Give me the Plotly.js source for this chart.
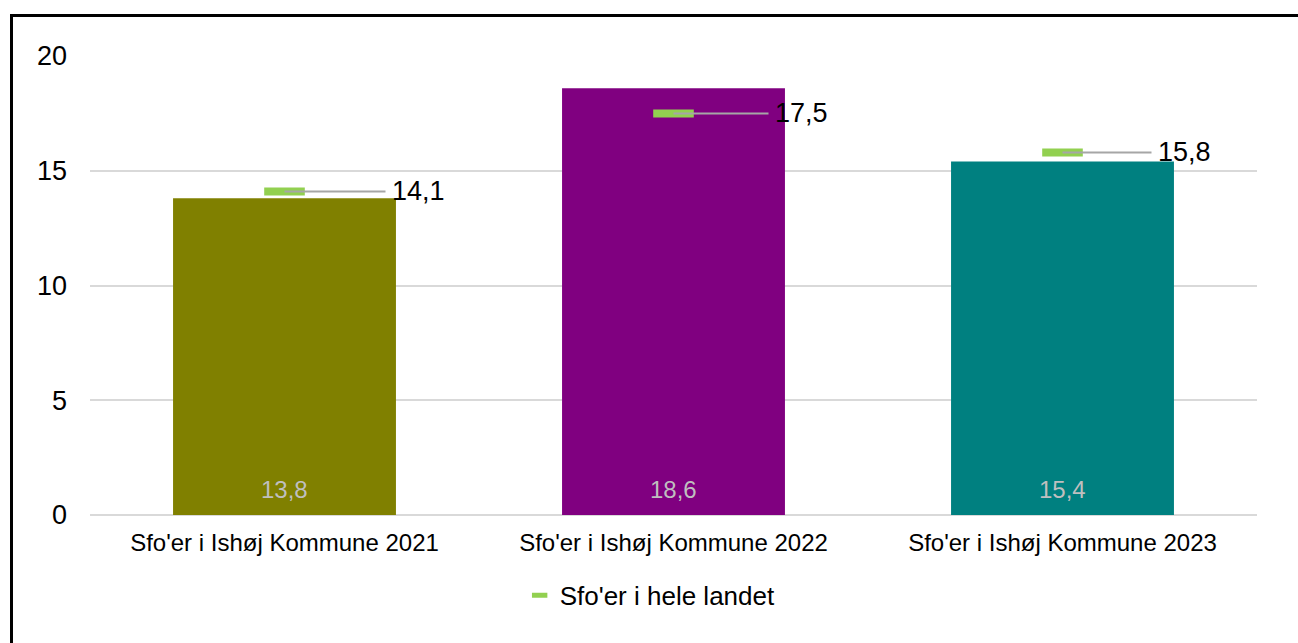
<!DOCTYPE html>
<html>
<head>
<meta charset="utf-8">
<script src="https://cdn.plot.ly/plotly-3.0.1.min.js"></script>
<style>
  html, body { margin: 0; padding: 0; background: #fff; }
  #chart { width: 1298px; height: 643px; }
  #frame { position: absolute; left: 10px; top: 14px; width: 1400px; height: 800px;
           border-left: 3px solid #000; border-top: 3px solid #000; pointer-events: none; }
</style>
</head>
<body>
<div id="chart"></div>
<div id="frame"></div>
<script>
const categories = ["Sfo'er i Ishøj Kommune 2021", "Sfo'er i Ishøj Kommune 2022", "Sfo'er i Ishøj Kommune 2023"];
const kommuneValues = [13.8, 18.6, 15.4];
const landetValues = [14.1, 17.5, 15.8];
const barColors = ["#808000", "#800080", "#008080"];
const seriesName = "Sfo'er i hele landet";

const fmt = v => v.toFixed(1).replace('.', ',');
const font = "Liberation Sans, Arial, sans-serif";
const green = '#92d050';

const bars = {
  type: 'bar',
  x: categories,
  y: kommuneValues,
  marker: { color: barColors },
  width: 0.573,
  showlegend: false,
  hoverinfo: 'skip'
};

const landet = {
  type: 'scatter',
  mode: 'markers',
  x: categories,
  y: landetValues,
  name: seriesName,
  showlegend: false,
  marker: { symbol: 'line-ew', size: 29, color: green, line: { color: green, width: 8 } },
  hoverinfo: 'skip'
};

// legend entry only (smaller symbol in legend)
const landetLegend = {
  type: 'scatter',
  mode: 'markers',
  x: [null],
  y: [null],
  name: seriesName,
  showlegend: true,
  marker: { symbol: 'line-ew', size: 11, color: green, line: { color: green, width: 5 } },
  hoverinfo: 'skip'
};

const annotations = [];
const shapes = [];
categories.forEach((c, i) => {
  annotations.push({
    x: c, y: 0, xref: 'x', yref: 'y', text: fmt(kommuneValues[i]),
    showarrow: false, yanchor: 'middle', yshift: 26,
    font: { family: font, size: 24, color: '#bfbfbf' }
  });
  annotations.push({
    x: c, y: landetValues[i], xref: 'x', yref: 'y', text: fmt(landetValues[i]),
    showarrow: false, xanchor: 'left', yanchor: 'middle', xshift: 105 - i * 6,
    font: { family: font, size: 27, color: '#000' }
  });
  shapes.push({
    type: 'line', xref: 'x', yref: 'y', xsizemode: 'pixel', xanchor: c,
    x0: 0, x1: 101 - i * 6, y0: landetValues[i], y1: landetValues[i],
    line: { color: '#a6a6a6', width: 2 }, layer: 'above'
  });
});

const layout = {
  width: 1298, height: 643,
  margin: { l: 90, r: 41, t: 56, b: 128 },
  paper_bgcolor: '#fff', plot_bgcolor: '#fff',
  font: { family: font, size: 20, color: '#000' },
  separators: ',.',
  bargap: 0.427,
  xaxis: {
    type: 'category',
    tickfont: { family: font, size: 24, color: '#000' },
    ticks: '', showgrid: false, zeroline: false, showline: false,
    ticklabelstandoff: 11
  },
  yaxis: {
    range: [0, 20], tickvals: [0, 5, 10, 15, 20],
    showgrid: true, gridcolor: '#d9d9d9', gridwidth: 2,
    zeroline: true, zerolinecolor: '#d9d9d9', zerolinewidth: 2,
    showline: false, ticks: '',
    tickfont: { family: font, size: 27, color: '#000' },
    ticklabelstandoff: 22
  },
  legend: {
    orientation: 'h', x: 0.48, xanchor: 'center', y: -0.175, yanchor: 'middle',
    font: { family: font, size: 26, color: '#000' },
    itemwidth: 30
  },
  annotations: annotations,
  shapes: shapes
};

Plotly.newPlot('chart', [bars, landet, landetLegend], layout, { displayModeBar: false, staticPlot: true });
</script>
</body>
</html>
